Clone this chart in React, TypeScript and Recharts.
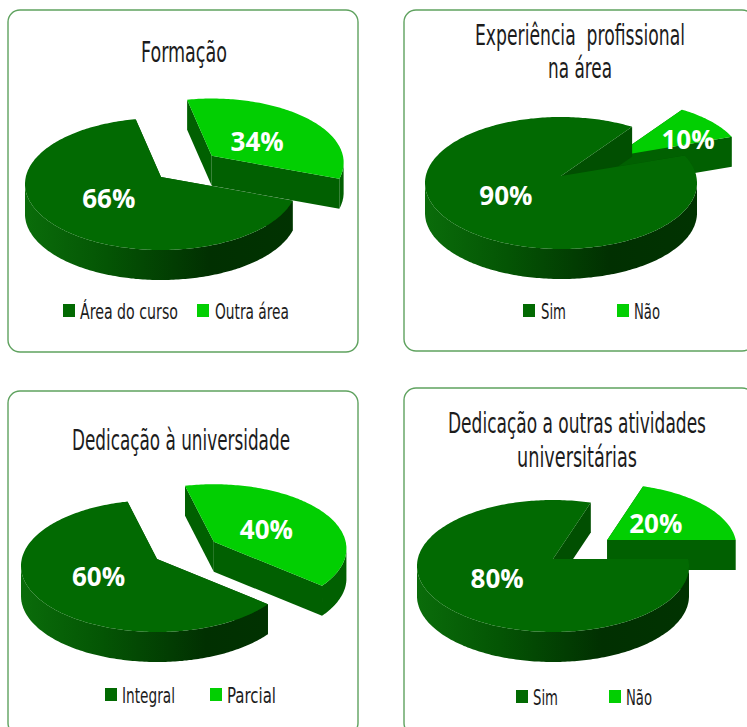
import React from "react";
import { Legend, Pie, PieChart } from "recharts";

const WIDTH = 747;
const HEIGHT = 727;
const DARK = "#026a02";
const BRIGHT = "#02cf02";
const NARROW = "'Liberation Sans Narrow', 'DejaVu Sans Condensed', sans-serif";

// the exploded slice comes first so that the big one paints over it
const formacaoNames = ["Outra área", "Área do curso"];
const formacaoValues = [34, 66];
const experienciaNames = ["Não", "Sim"];
const experienciaValues = [10, 90];
const dedicacaoNames = ["Parcial", "Integral"];
const dedicacaoValues = [40, 60];
const atividadesNames = ["Não", "Sim"];
const atividadesValues = [20, 80];

const toRows = (names: string[], values: number[]) =>
  names.map((name, i) => ({ name, value: values[i], fill: i === 0 ? BRIGHT : DARK }));

const charts = [
  {
    id: "a",
    rows: toRows(formacaoNames, formacaoValues),
    card: { x: 8, y: 10, w: 350, h: 342 },
    cx: 161,
    cy: 184,
    startAngle: 102,
    sideScale: 0.97,
    sideLabel: { r: 60, dy: 5 },
    titles: [{ text: "Formação", x1: 141, x2: 227, y: 62 }],
    legend: [
      { box: 63, x1: 80, x2: 178 },
      { box: 197, x1: 215, x2: 289 },
    ],
    legendY: 304,
  },
  {
    id: "b",
    rows: toRows(experienciaNames, experienciaValues),
    card: { x: 404, y: 10, w: 350, h: 341 },
    cx: 561,
    cy: 183,
    startAngle: 55,
    sideScale: 0.95,
    sideLabel: { r: 92, dy: 10 },
    titles: [
      { text: "Experiência  profissional", x1: 475, x2: 685, y: 45 },
      { text: "na área", x1: 548, x2: 612, y: 78 },
    ],
    legend: [
      { box: 523, x1: 541, x2: 566 },
      { box: 617, x1: 634, x2: 660 },
    ],
    legendY: 304,
  },
  {
    id: "c",
    rows: toRows(dedicacaoNames, dedicacaoValues),
    card: { x: 8, y: 391, w: 350, h: 344 },
    cx: 157,
    cy: 566,
    startAngle: 104,
    sideScale: 0.975,
    sideLabel: { r: 62, dy: 4 },
    titles: [{ text: "Dedicação à universidade", x1: 72, x2: 290, y: 450 }],
    legend: [
      { box: 105, x1: 122, x2: 175 },
      { box: 210, x1: 227, x2: 276 },
    ],
    legendY: 688,
  },
  {
    id: "d",
    rows: toRows(atividadesNames, atividadesValues),
    card: { x: 404, y: 388, w: 350, h: 347 },
    cx: 553,
    cy: 566,
    startAngle: 72,
    sideScale: 0.95,
    sideLabel: { r: 60, dy: 1 },
    titles: [
      { text: "Dedicação a outras atividades", x1: 448, x2: 706, y: 433 },
      { text: "universitárias", x1: 517, x2: 637, y: 467 },
    ],
    legend: [
      { box: 516, x1: 533, x2: 558 },
      { box: 609, x1: 626, x2: 652 },
    ],
    legendY: 690,
  },
];

const RX = 136;
const RY = 66;
const LIFT = 7; // perspective: the apex sits above the middle of the ellipse
const DEPTH = 30;
const EXPLODE = 67;
const rad = Math.PI / 180;

// where a ray leaving the apex at this angle meets the rim, as an ellipse angle
function rimAngle(deg: number) {
  const l = LIFT / RY;
  const s = Math.sin(deg * rad);
  const t = -l * s + Math.sqrt(l * l * s * s - l * l + 1);
  const ux = Math.cos(deg * rad) * t;
  const uy = s * t + l;
  const a = Math.atan2(uy, ux) / rad;
  // keep it on the same turn as the input
  return a + 360 * Math.round((deg - a) / 360);
}

const explodeOffset = (mid: number) => ({
  dx: EXPLODE * Math.cos(mid * rad),
  dy: -EXPLODE * Math.sin(mid * rad) * (RY / RX),
});

function Slice(props: any) {
  const { cx, cy, startAngle, endAngle, fill, payload, chartId, sideScale } = props;
  const side = payload.fill === BRIGHT;
  const hi = Math.max(startAngle, endAngle);
  const lo = Math.min(startAngle, endAngle);
  const a0 = rimAngle(hi);
  const a1 = rimAngle(lo);
  const apex = { x: cx, y: cy - LIFT };
  const k = side ? sideScale : 1;
  const rimPoint = (a: number) => ({
    x: apex.x + k * (cx + RX * Math.cos(a * rad) - apex.x),
    y: apex.y + k * (cy - RY * Math.sin(a * rad) - apex.y),
    front: Math.sin(a * rad) < 0,
  });
  const rim: { x: number; y: number; front: boolean }[] = [];
  for (let a = a0; a > a1; a -= 1) rim.push(rimPoint(a));
  rim.push(rimPoint(a1));

  const path = (pts: { x: number; y: number }[]) =>
    "M" + pts.map((p) => `${p.x.toFixed(1)},${p.y.toFixed(1)}`).join("L") + "Z";
  const down = (p: { x: number; y: number }) => ({ x: p.x, y: p.y + DEPTH });
  const face = (p: { x: number; y: number }) => path([apex, p, down(p), down(apex)]);

  const runs: { x: number; y: number }[][] = [];
  let run: { x: number; y: number }[] = [];
  rim.forEach((p) => {
    if (p.front) {
      run.push(p);
    } else if (run.length) {
      runs.push(run);
      run = [];
    }
  });
  if (run.length) runs.push(run);

  const off = side ? explodeOffset((hi + lo) / 2) : { dx: 0, dy: 0 };
  const gradId = `wall-${chartId}`;
  return (
    <g transform={`translate(${off.dx},${off.dy})`}>
      <defs>
        <linearGradient id={gradId} gradientUnits="userSpaceOnUse" x1={cx - RX} x2={cx + RX} y1={0} y2={0}>
          <stop offset="0" stopColor="#0a6c0a" />
          <stop offset="0.3" stopColor="#045504" />
          <stop offset="0.68" stopColor="#013001" />
          <stop offset="1" stopColor="#013301" />
        </linearGradient>
      </defs>
      <path d={face(rim[0])} fill={side ? "#016001" : "#014f01"} />
      <path d={face(rim[rim.length - 1])} fill={side ? "#016001" : "#014f01"} />
      {runs.map((r, i) => (
        <path
          key={i}
          d={path([...r, ...[...r].reverse().map(down)])}
          fill={side ? "#016001" : `url(#${gradId})`}
        />
      ))}
      <path d={path([apex, ...rim])} fill={fill} />
    </g>
  );
}

function PercentLabel(props: any) {
  const { cx, cy, midAngle, value, payload, sideLabel } = props;
  const side = payload.fill === BRIGHT;
  const r = side ? sideLabel.r : 69;
  const off = side ? explodeOffset(midAngle) : { dx: 0, dy: 0 };
  const x = cx + off.dx + r * Math.cos(midAngle * rad);
  const y = cy - LIFT + off.dy - r * Math.sin(midAngle * rad) * (RY / RX) + (side ? sideLabel.dy : 0);
  return (
    <text
      x={x}
      y={y}
      dy="0.35em"
      textAnchor="middle"
      fill="#ffffff"
      fontFamily="'Open Sans', sans-serif"
      fontWeight={700}
      fontSize={26}
    >
      {value}%
    </text>
  );
}

// tall, thin lettering: a small font stretched upward, fitted to the span it takes
function Narrow({ text, x1, x2, y, size }: { text: string; x1: number; x2: number; y: number; size: number }) {
  return (
    <text
      transform={`translate(${x1},${y}) scale(1,1.4)`}
      textLength={x2 - x1}
      lengthAdjust="spacingAndGlyphs"
      fontFamily={NARROW}
      fontSize={size}
      fill="#1c1c1c"
      style={{ whiteSpace: "pre" }}
    >
      {text}
    </text>
  );
}

function ChartCard({ chart }: { chart: (typeof charts)[number] }) {
  const { card, rows, cx, cy, startAngle } = chart;
  // legend reads big slice first, the reverse of the paint order
  const legendRows = [...rows].reverse();
  return (
    <div style={{ position: "absolute", left: 0, top: 0 }}>
      <PieChart width={WIDTH} height={HEIGHT} margin={{ top: 0, right: 0, bottom: 0, left: 0 }}>
        <rect
          x={card.x}
          y={card.y}
          width={card.w}
          height={card.h}
          rx={12}
          fill="none"
          stroke="#5fa25f"
          strokeWidth={1.4}
        />
        {chart.titles.map((t) => (
          <Narrow key={t.text} {...t} size={20} />
        ))}
        <Pie
          data={rows}
          dataKey="value"
          nameKey="name"
          cx={cx}
          cy={cy}
          outerRadius={RX}
          startAngle={startAngle}
          endAngle={startAngle - 360}
          stroke="none"
          isAnimationActive={false}
          labelLine={false}
          shape={(p: any) => <Slice {...p} chartId={chart.id} sideScale={chart.sideScale} />}
          label={(p: any) => <PercentLabel {...p} sideLabel={chart.sideLabel} />}
        />
        <Legend
          wrapperStyle={{ position: "absolute", left: 0, top: 0, width: WIDTH, height: HEIGHT, pointerEvents: "none" }}
          content={() => (
            <svg width={WIDTH} height={HEIGHT} style={{ display: "block" }}>
              {legendRows.map((row, i) => {
                const item = chart.legend[i];
                return (
                  <g key={row.name}>
                    <rect x={item.box} y={chart.legendY} width={12} height={13} fill={row.fill} />
                    <Narrow text={row.name} x1={item.x1} x2={item.x2} y={chart.legendY + 15} size={15} />
                  </g>
                );
              })}
            </svg>
          )}
        />
      </PieChart>
    </div>
  );
}

export default function App() {
  return (
    <div style={{ position: "absolute", left: 0, top: 0, width: WIDTH, height: HEIGHT, overflow: "hidden", background: "#fff" }}>
      {charts.map((chart) => (
        <ChartCard key={chart.id} chart={chart} />
      ))}
    </div>
  );
}
